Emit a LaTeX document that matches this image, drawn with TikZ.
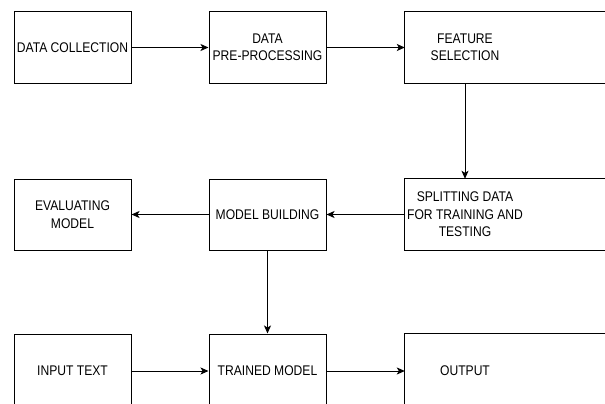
\documentclass[tikz,border=0pt]{standalone}
\usepackage{fontspec}
\setmainfont{Liberation Sans}[FakeStretch=0.865]
\usetikzlibrary{arrows.meta}
\begin{document}
\begin{tikzpicture}[x=1pt,y=-1pt,
  font=\fontsize{14}{17.5}\selectfont,
  box/.style={draw, line width=1pt, minimum width=117pt, minimum height=71pt, inner sep=0pt, align=center},
  openbox/.style={draw=none, minimum width=120pt, minimum height=71pt, inner sep=0pt, align=center},
  edge/.style={draw, line width=1pt, -{Stealth[length=8pt,width=7pt,inset=2pt]}},
  side/.style={line width=1pt}]
\clip (0,0) rectangle (605,404);
% row 1
\node[box] (dc) at (72.5,47.5) {DATA COLLECTION};
\node[box] (dp) at (267.5,47.5) {DATA\\PRE-PROCESSING};
\node[openbox] (fs) at (465,47.5) {FEATURE\\SELECTION};
% row 2
\node[box] (ev) at (72.5,214.5) {EVALUATING\\MODEL};
\node[box] (mb) at (267.5,214.5) {MODEL BUILDING};
\node[openbox] (sp) at (465,214.5) {SPLITTING DATA\\FOR TRAINING AND\\TESTING};
% row 3
\node[box, minimum height=74pt] (it) at (72.5,371) {INPUT TEXT};
\node[box, minimum height=74pt] (tm) at (267.5,371) {TRAINED MODEL};
\node[openbox, minimum height=74pt] (op) at (465,371) {OUTPUT};
% open boxes of the right column (cut by the picture edge)
\foreach \n in {fs,sp,op}{
  \draw[side] ([xshift=200pt]\n.north west) -- (\n.north west) -- (\n.south west) -- ([xshift=200pt]\n.south west);
}
% connectors
\path[edge] (dc.east) -- (dp.west);
\path[edge] (dp.east) -- (fs.west);
\path[edge] (fs.south) -- (sp.north);
\path[edge] (sp.west) -- (mb.east);
\path[edge] (mb.west) -- (ev.east);
\path[edge] (mb.south) -- (tm.north);
\path[edge] (it.east) -- (tm.west);
\path[edge] (tm.east) -- (op.west);
\end{tikzpicture}
\end{document}
